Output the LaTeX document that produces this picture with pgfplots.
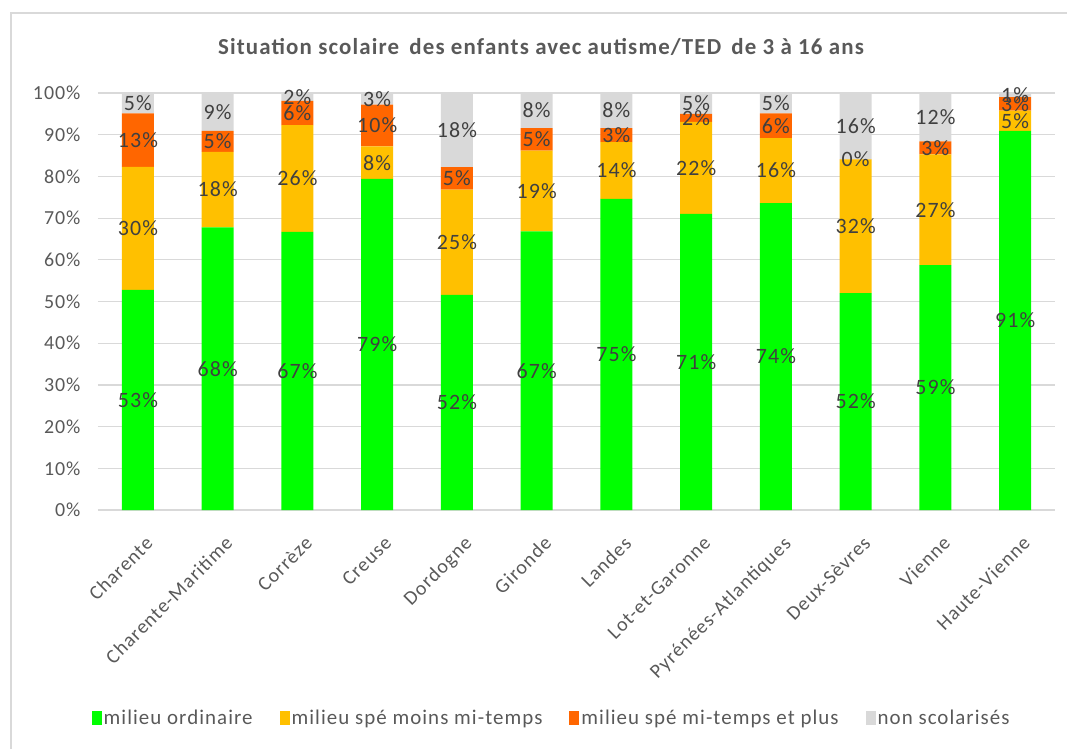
\documentclass[border=0pt]{standalone}
\usepackage{pgfplots}
\pgfplotsset{compat=1.18}
\usepackage{pgfplotstable}
\usepackage{fontspec}
\setmainfont{Carlito}
\newfontfamily\wide[LetterSpace=5]{Carlito}
\definecolor{cgreen}{HTML}{00FF00}
\definecolor{cyellow}{HTML}{FFC000}
\definecolor{corange}{HTML}{FF6600}
\definecolor{cgrey}{HTML}{D9D9D9}
\definecolor{ctext}{HTML}{595959}
\definecolor{clabel}{HTML}{404040}
\definecolor{cgrid}{HTML}{D9D9D9}

\pgfplotstableread{
x ord moins plus non
0 52.8 29.5 12.8 4.9
1 67.8 18.1 5.0 9.1
2 66.7 25.6 5.8 1.9
3 79.4 7.8 10.0 2.8
4 51.6 25.2 5.4 17.8
5 66.8 19.4 5.4 8.4
6 74.6 13.6 3.4 8.4
7 71.0 22.1 1.9 5.0
8 73.6 15.6 5.9 4.9
9 52.0 32.1 0.01 15.89
10 58.7 26.6 3.1 11.6
11 90.9 4.9 3.2 1.0
}\data

\begin{document}
\begin{tikzpicture}
\begin{axis}[
  at={(0,0)}, anchor=south west,
  scale only axis, width=957bp, height=417bp,
  ybar stacked, bar width=32bp,
  xmin=-0.5, xmax=11.5, ymin=0, ymax=100,
  xtick=data,
  xticklabels={Charente,Charente-Maritime,Corrèze,Creuse,Dordogne,Gironde,Landes,Lot-et-Garonne,Pyrénées-Atlantiques,Deux-Sèvres,Vienne,Haute-Vienne},
  ytick={0,10,...,100},
  yticklabel={\pgfmathprintnumber{\tick}\%},
  /pgf/number format/assume math mode=true,
  tick style={draw=none},
  ymajorgrids, grid style={cgrid, line width=1.2bp},
  axis x line*=bottom, axis y line*=left,
  x axis line style={draw=cgrid, line width=1.2bp},
  y axis line style={draw=none},
  ticklabel style={font=\wide\fontsize{20}{22}\selectfont, text=ctext},
  xticklabel style={rotate=45, anchor=north east, inner sep=2bp, yshift=-20bp, xshift=-11bp},
  yticklabel style={xshift=-14bp},
  nodes near coords={\pgfmathprintnumber[fixed,precision=0]{\pgfplotspointmeta}\%},
  point meta=rawy,
  every node near coord/.style={font=\wide\fontsize{22}{24}\selectfont, text=clabel, anchor=center, inner sep=0pt},
  legend columns=4,
  legend style={at={(0.474,-0.499)}, anchor=center, draw=none, fill=none,
    font=\wide\fontsize{21}{23}\selectfont, text=ctext,
    /tikz/every even column/.append style={column sep=25bp}},
  legend image code/.code={\fill[#1] (0bp,-7bp) rectangle (10bp,7bp);},
]
\addplot[fill=cgreen, draw=none] table[x=x, y=ord] {\data};
\addplot[fill=cyellow, draw=none] table[x=x, y=moins] {\data};
\addplot[fill=corange, draw=none] table[x=x, y=plus] {\data};
\addplot[fill=cgrey, draw=none] table[x=x, y=non] {\data};
\legend{milieu ordinaire, milieu spé moins mi-temps, milieu spé mi-temps et plus, non scolarisés}
\end{axis}
\node[font=\wide\bfseries\fontsize{23}{26}\selectfont, text=ctext] at (443bp,463bp) {Situation scolaire\, des enfants avec autisme/TED\, de 3 à 16 ans};
\draw[cgrid, line width=2bp] (-87bp,-239bp) -- (-87bp,497bp) -- (969bp,497bp);
\pgfresetboundingbox
\path[use as bounding box] (-98bp,-239bp) rectangle (969bp,510bp);
\end{tikzpicture}
\end{document}
